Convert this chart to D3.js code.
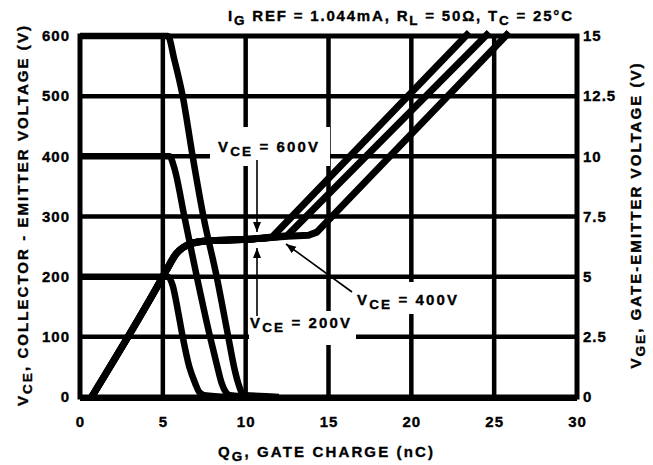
<!DOCTYPE html>
<html>
<head>
<meta charset="utf-8">
<script src="https://d3js.org/d3.v7.min.js"></script>
<style>
body { margin: 0; background: #fff; }
svg text { font-family: "Liberation Sans", Arial, sans-serif; font-weight: bold; fill: #000; stroke: #000; stroke-width: 0.35px; }
</style>
</head>
<body>
<svg width="653" height="465"></svg>
<script>
// tick values / labels
const qTicks = [0, 5, 10, 15, 20, 25, 30];
const vceTicks = [0, 100, 200, 300, 400, 500, 600];
const vgeTicks = [0, 2.5, 5, 7.5, 10, 12.5, 15];
const vgeTickLabels = ["0", "2.5", "5", "7.5", "10", "12.5", "15"];

// V_CE falling curves (left axis, volts) vs gate charge (nC)
const fall200Q = [0, 5.3, 5.6, 5.9, 6.2, 6.6, 6.95, 7.2, 7.5, 9.0];
const fall200V = [200, 200, 185, 145, 100, 50, 23, 8, 3, 0];
const fall400Q = [0, 5.4, 5.7, 6.3, 7.05, 7.85, 8.25, 8.55, 8.8, 9.05, 10.5];
const fall400V = [400, 400, 380, 300, 200, 100, 55, 23, 8, 3, 0];
const fall600Q = [0, 5.3, 5.7, 6.2, 6.8, 7.45, 8.25, 8.95, 9.3, 9.55, 9.75, 10.0, 11.5, 12.0];
const fall600V = [600, 600, 560, 500, 400, 300, 200, 100, 50, 23, 8, 3, 1, 0];

// V_GE rising curves (right axis, volts) vs gate charge (nC)
// shared turn-on part up to the Miller plateau
const riseQ = [0.7, 5.0, 5.4, 5.8, 6.2, 6.6, 7.2, 8.0, 10.0, 11.0];
const riseV = [0, 5.0, 5.5, 5.95, 6.2, 6.35, 6.45, 6.5, 6.55, 6.6];
// plateau end and straight rise for each V_CE
const tail200Q = [11.0, 11.6, 23.5];
const tail200V = [6.6, 6.65, 15.15];
const tail400Q = [11.0, 12.5, 24.7];
const tail400V = [6.6, 6.7, 15.15];
const tail600Q = [11.0, 12.5, 13.8, 14.3, 25.9];
const tail600V = [6.6, 6.68, 6.72, 6.85, 15.15];

const svg = d3.select("svg");
const x = d3.scaleLinear().domain([0, 30]).range([80, 577]);
const yL = d3.scaleLinear().domain([0, 600]).range([397, 36]);
const yR = d3.scaleLinear().domain([0, 15]).range([397, 36]);

// grid
const grid = svg.append("g").attr("stroke", "#000").attr("stroke-width", 4.5);
grid.selectAll(".gv").data(qTicks.slice(1, -1)).enter().append("line")
    .attr("x1", d => x(d)).attr("x2", d => x(d))
    .attr("y1", yL(600)).attr("y2", yL(0));
grid.selectAll(".gh").data(vceTicks.slice(1, -1)).enter().append("line")
    .attr("x1", x(0)).attr("x2", x(30))
    .attr("y1", d => yL(d)).attr("y2", d => yL(d));

// white boxes behind the labels
const boxes = [[210, 127, 120, 39], [249, 311, 107, 34], [352, 282, 114, 32]];
svg.selectAll(".box").data(boxes).enter().append("rect")
    .attr("x", d => d[0]).attr("y", d => d[1]).attr("width", d => d[2]).attr("height", d => d[3])
    .attr("fill", "#fff");

// frame
svg.append("rect").attr("x", x(0)).attr("y", yL(600))
    .attr("width", x(30) - x(0)).attr("height", yL(0) - yL(600))
    .attr("fill", "none").attr("stroke", "#000").attr("stroke-width", 5);
svg.append("line").attr("x1", x(0)).attr("x2", x(30)).attr("y1", yL(0) + 1).attr("y2", yL(0) + 1)
    .attr("stroke", "#000").attr("stroke-width", 6);

// curves
const zip = (a, b) => a.map((v, i) => [v, b[i]]);
const lineL = d3.line().x(d => x(d[0])).y(d => yL(d[1])).curve(d3.curveMonotoneX);
const smoothR = d3.line().x(d => x(d[0])).y(d => yR(d[1])).curve(d3.curveMonotoneX);
const straightR = d3.line().x(d => x(d[0])).y(d => yR(d[1]));

[[fall200Q, fall200V], [fall400Q, fall400V], [fall600Q, fall600V]].forEach(s => {
    svg.append("path").attr("d", lineL(zip(s[0], s[1])))
        .attr("fill", "none").attr("stroke", "#000").attr("stroke-width", 6.5);
});
[[tail200Q, tail200V], [tail400Q, tail400V], [tail600Q, tail600V]].forEach(s => {
    const d = smoothR(zip(riseQ, riseV)) + straightR(zip(s[0], s[1])).replace(/^M/, "L");
    svg.append("path").attr("d", d)
        .attr("fill", "none").attr("stroke", "#000").attr("stroke-width", 7)
        .attr("stroke-linejoin", "round");
});

// axes labels
const fs = "15px";
const axL = svg.append("g").attr("transform", "translate(" + x(0) + ",0)")
    .call(d3.axisLeft(yL).tickValues(vceTicks).tickSize(0).tickPadding(10));
const axR = svg.append("g").attr("transform", "translate(" + x(30) + ",0)")
    .call(d3.axisRight(yR).tickValues(vgeTicks).tickSize(0).tickPadding(6)
        .tickFormat((d, i) => vgeTickLabels[i]));
const axB = svg.append("g").attr("transform", "translate(0," + yL(0) + ")")
    .call(d3.axisBottom(x).tickValues(qTicks).tickSize(0).tickPadding(19));
[axL, axR, axB].forEach(a => {
    a.select(".domain").remove();
    a.selectAll("text").attr("font-size", fs).attr("font-family", null)
        .style("letter-spacing", "1px");
});

// text helper with subscripts
function richText(g, parts, size) {
    const t = g.append("text").attr("font-size", size);
    parts.forEach(p => {
        const ts = t.append("tspan").text(p[0]);
        if (p[1] === "sub") ts.attr("dy", 4).attr("font-size", "0.9em");
        if (p[1] === "back") ts.attr("dy", -4);
    });
    return t;
}

// title
richText(svg, [["I"], ["G", "sub"], [" REF = 1.044mA, R", "back"], ["L", "sub"],
    [" = 50\u03A9, T", "back"], ["C", "sub"], [" = 25\u00B0C", "back"]], "15px")
    .attr("x", 228).attr("y", 21)
    .attr("textLength", 344).attr("lengthAdjust", "spacing");

// axis titles
richText(svg.append("g").attr("transform", "translate(28,216) rotate(-90)"),
    [["V"], ["CE", "sub"], [", COLLECTOR - EMITTER VOLTAGE (V)", "back"]], "15px")
    .attr("text-anchor", "middle").attr("textLength", 380).attr("lengthAdjust", "spacing");
richText(svg.append("g").attr("transform", "translate(641,216) rotate(-90)"),
    [["V"], ["GE", "sub"], [", GATE-EMITTER VOLTAGE (V)", "back"]], "15px")
    .attr("text-anchor", "middle").attr("textLength", 305).attr("lengthAdjust", "spacing");
richText(svg, [["Q"], ["G", "sub"], [", GATE CHARGE (nC)", "back"]], "15px")
    .attr("x", 218).attr("y", 457).attr("textLength", 215).attr("lengthAdjust", "spacing");

// curve labels
const labels = [["600V", 218, 152], ["200V", 250, 328], ["400V", 357, 305]];
labels.forEach(l => {
    richText(svg, [["V"], ["CE", "sub"], [" = " + l[0], "back"]], "15px")
        .attr("x", l[1]).attr("y", l[2]).attr("textLength", 100).attr("lengthAdjust", "spacing");
});

// arrows
svg.append("defs").append("marker").attr("id", "ah")
    .attr("viewBox", "0 0 10 10").attr("refX", 10).attr("refY", 5)
    .attr("markerWidth", 10).attr("markerHeight", 10).attr("markerUnits", "userSpaceOnUse")
    .attr("orient", "auto")
    .append("path").attr("d", "M0,1 L10,5 L0,9 Z").attr("fill", "#000");
const arrows = [[257, 160, 257, 232], [257, 316, 257, 248], [352, 292, 286, 244]];
svg.selectAll(".arr").data(arrows).enter().append("line")
    .attr("x1", d => d[0]).attr("y1", d => d[1]).attr("x2", d => d[2]).attr("y2", d => d[3])
    .attr("stroke", "#000").attr("stroke-width", 1.6).attr("marker-end", "url(#ah)");
</script>
</body>
</html>
